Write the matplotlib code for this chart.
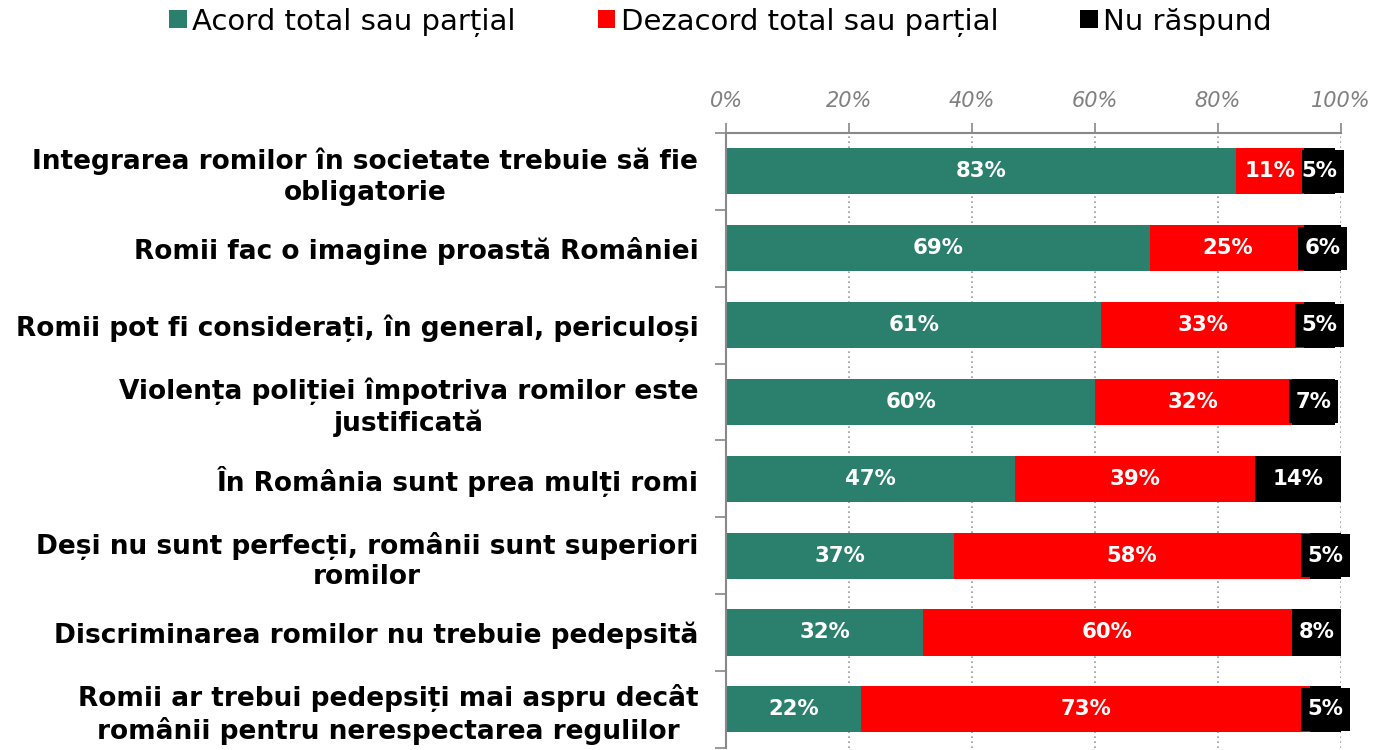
import matplotlib
matplotlib.use("Agg")
import matplotlib.pyplot as plt
from matplotlib.patches import Patch
import numpy as np

categories = [
    "Integrarea romilor în societate trebuie să fie\nobligatorie",
    "Romii fac o imagine proastă României",
    "Romii pot fi considerați, în general, periculoși",
    "Violența poliției împotriva romilor este\njustificată",
    "În România sunt prea mulți romi",
    "Deși nu sunt perfecți, românii sunt superiori\nromilor",
    "Discriminarea romilor nu trebuie pedepsită",
    "Romii ar trebui pedepsiți mai aspru decât\nromânii pentru nerespectarea regulilor",
]
acord = [83, 69, 61, 60, 47, 37, 32, 22]
dezacord = [11, 25, 33, 32, 39, 58, 60, 73]
nu_raspund = [5, 6, 5, 7, 14, 5, 8, 5]
series_names = ["Acord total sau parțial", "Dezacord total sau parțial", "Nu răspund"]
colors = ["#2A806C", "#FF0000", "#000000"]
xticks = [0, 20, 40, 60, 80, 100]

plt.rcParams['font.family'] = ['DejaVu Sans']

fig = plt.figure(figsize=(13.83, 7.5), dpi=100)
ax = fig.add_axes([0.525, 0.003, 0.4446, 0.8197])

y = np.arange(len(categories))
left = np.zeros(len(categories))
series = [acord, dezacord, nu_raspund]
for vals, col in zip(series, colors):
    ax.barh(y, vals, left=left, height=0.6, color=col, zorder=2)
    left = left + np.array(vals)

left = np.zeros(len(categories))
for k, (vals, col) in enumerate(zip(series, colors)):
    for i, v in enumerate(vals):
        ax.text(left[i] + v / 2, y[i], f"{v}%", ha="center", va="center",
                color="white", fontsize=15.3, fontweight="bold", zorder=6 - k,
                bbox=dict(boxstyle="square,pad=0.32", mutation_aspect=1.7,
                          facecolor=col, edgecolor="none"))
    left = left + np.array(vals)

ax.set_xlim(0, 100)
ax.set_ylim(len(categories) - 0.5, -0.5)
ax.xaxis.tick_top()
ax.set_xticks(xticks)
ax.set_xticklabels([f"{t}%" for t in xticks], fontsize=15, style="italic", color="#808080")
ax.tick_params(axis="x", direction="out", length=7, color="#888888", width=1.2, pad=9)
for t in xticks[1:]:
    ax.axvline(t, color="#999999", linestyle=(0, (1, 2)), linewidth=1.2, zorder=1)

ax.set_yticks(y)
ax.set_yticklabels(categories, fontsize=19, fontweight="bold", multialignment="center",
                   linespacing=1.22)
ax.tick_params(axis="y", direction="in", length=5, color="#888888", width=1.2, pad=20)
ax.set_yticks(np.arange(-0.5, len(categories), 1), minor=True)
ax.tick_params(axis="y", which="minor", direction="out", length=8, color="#888888", width=1.2)

for s in ["right", "bottom"]:
    ax.spines[s].set_visible(False)
for s in ["top", "left"]:
    ax.spines[s].set_color("#888888")
    ax.spines[s].set_linewidth(1.5)

handles = [Patch(facecolor=c, edgecolor="none") for c in colors]
fig.legend(handles, series_names, loc="upper center", bbox_to_anchor=(0.521, 1.025),
           ncol=3, frameon=False, fontsize=21, handlelength=0.6, handleheight=0.6,
           handletextpad=0.2, columnspacing=2.8)

fig.savefig("out.png", dpi=100)
